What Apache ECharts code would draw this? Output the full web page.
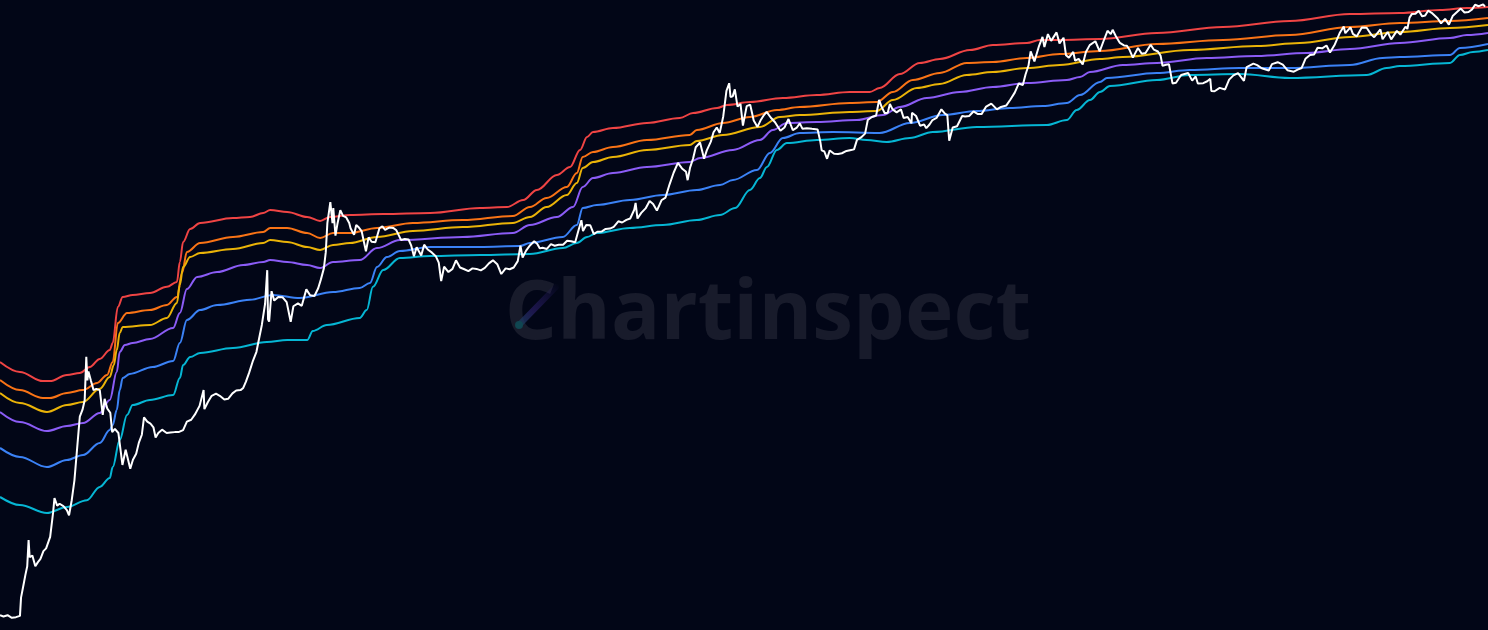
<!DOCTYPE html>
<html><head><meta charset="utf-8">
<script src="https://cdn.jsdelivr.net/npm/echarts@6/dist/echarts.min.js"></script>
<style>html,body{margin:0;padding:0;background:#020617;}#chart{width:1488px;height:630px;}</style>
</head><body><div id="chart"></div>
<script>
// BTC price (USD), approx. semi-monthly
const btcPrice = [
['2010-07-23',0.066],['2010-08-05',0.064],['2010-08-20',0.066],['2010-09-05',0.062],['2010-09-20',0.063],['2010-10-05',0.065],['2010-10-09',0.1],['2010-10-17',0.13],['2010-10-25',0.17],['2010-11-01',0.21],['2010-11-06',0.39],['2010-11-10',0.26],['2010-11-20',0.27],['2010-12-01',0.21],['2010-12-10',0.23],['2010-12-20',0.25],['2010-12-31',0.30],
['2011-01-10',0.32],['2011-01-25',0.42],['2011-02-05',0.75],['2011-02-10',1.05],['2011-02-20',0.88],['2011-03-01',0.92],['2011-03-15',0.87],['2011-03-28',0.79],['2011-04-05',0.70],['2011-04-15',1.0],['2011-04-25',1.6],['2011-05-05',3.4],['2011-05-15',7.2],['2011-05-25',8.5],['2011-06-02',10.6],['2011-06-08',29.6],['2011-06-12',17],['2011-06-16',21],['2011-06-25',16.9],['2011-07-05',13.5],['2011-07-15',13.9],['2011-07-28',13.5],['2011-08-08',7.5],['2011-08-15',11.0],['2011-08-25',8.7],['2011-09-05',7.9],['2011-09-12',5.0],['2011-09-22',5.4],['2011-10-05',4.9],['2011-10-20',2.3],['2011-11-01',3.3],['2011-11-18',2.1],['2011-11-28',2.6],['2011-12-10',3.0],['2011-12-20',3.9],['2011-12-31',4.7],
['2012-01-08',7.1],['2012-01-20',6.4],['2012-02-01',6.1],['2012-02-12',5.6],['2012-02-20',4.4],['2012-03-01',4.9],['2012-03-15',5.3],['2012-04-01',4.9],['2012-04-15',4.95],['2012-05-01',5.0],['2012-05-15',5.0],['2012-06-01',5.25],['2012-06-15',6.4],['2012-07-01',6.7],['2012-07-15',7.6],['2012-08-01',9.3],['2012-08-16',13.5],['2012-08-19',8.6],['2012-09-01',10.2],['2012-09-15',11.8],['2012-10-01',12.4],['2012-10-15',11.8],['2012-11-01',10.8],['2012-11-15',11.0],['2012-12-01',12.5],['2012-12-15',13.4],['2012-12-31',13.5],
['2013-01-10',14.2],['2013-01-20',16.5],['2013-02-01',20.4],['2013-02-15',27],['2013-02-28',33.4],['2013-03-10',46],['2013-03-20',63],['2013-04-01',104],['2013-04-09',230],['2013-04-12',72],['2013-04-16',68],['2013-04-25',140],['2013-05-05',112],['2013-05-20',122],['2013-06-05',121],['2013-06-20',108],['2013-07-05',68],['2013-07-15',98],['2013-08-01',105],['2013-08-15',99],['2013-09-01',146],['2013-09-15',127],['2013-10-01',125],['2013-10-15',150],['2013-10-25',185],['2013-11-05',240],['2013-11-12',350],['2013-11-18',700],['2013-11-29',1150],['2013-12-04',1150],['2013-12-07',700],['2013-12-10',1000],['2013-12-18',520],['2013-12-25',680],
['2014-01-05',950],['2014-01-15',830],['2014-01-27',800],['2014-02-07',700],['2014-02-12',620],['2014-02-25',530],['2014-03-05',670],['2014-03-15',630],['2014-03-25',580],['2014-04-01',470],['2014-04-10',360],['2014-04-20',500],['2014-05-01',450],['2014-05-15',445],['2014-05-30',620],['2014-06-10',650],['2014-06-20',595],['2014-07-05',630],['2014-07-20',625],['2014-08-01',590],['2014-08-18',470],['2014-09-01',480],['2014-09-15',475],['2014-09-25',410],['2014-10-05',320],['2014-10-15',395],['2014-11-01',325],['2014-11-12',420],['2014-11-25',375],['2014-12-10',350],['2014-12-25',320],
['2015-01-05',275],['2015-01-14',178],['2015-01-25',250],['2015-02-10',220],['2015-02-25',237],['2015-03-10',290],['2015-03-25',245],['2015-04-10',235],['2015-04-25',225],['2015-05-10',240],['2015-05-25',237],['2015-06-10',229],['2015-06-25',243],['2015-07-10',270],['2015-07-25',290],['2015-08-10',265],['2015-08-25',210],['2015-09-10',240],['2015-09-25',235],['2015-10-10',245],['2015-10-25',285],['2015-11-04',410],['2015-11-12',310],['2015-11-25',365],['2015-12-10',415],['2015-12-25',455],
['2016-01-05',430],['2016-01-15',385],['2016-01-25',390],['2016-02-10',380],['2016-02-25',425],['2016-03-10',410],['2016-03-25',420],['2016-04-10',420],['2016-04-25',460],['2016-05-10',455],['2016-05-25',445],['2016-06-05',575],['2016-06-17',750],['2016-06-23',580],['2016-07-05',670],['2016-07-20',665],['2016-08-02',540],['2016-08-15',570],['2016-09-01',575],['2016-09-15',610],['2016-10-01',615],['2016-10-15',640],['2016-11-01',730],['2016-11-15',710],['2016-12-01',755],['2016-12-15',780],['2016-12-30',960],
['2017-01-04',1130],['2017-01-11',780],['2017-01-25',890],['2017-02-10',990],['2017-02-25',1180],['2017-03-10',1100],['2017-03-24',940],['2017-04-10',1200],['2017-04-25',1280],['2017-05-10',1750],['2017-05-25',2300],['2017-06-10',2900],['2017-06-25',2550],['2017-07-10',2350],['2017-07-16',1930],['2017-07-25',2600],['2017-08-05',3200],['2017-08-15',4200],['2017-08-31',4700],['2017-09-15',3200],['2017-09-25',3900],['2017-10-10',4800],['2017-10-20',6000],['2017-11-01',6700],['2017-11-12',5900],['2017-11-25',8700],['2017-12-07',16000],['2017-12-17',19100],['2017-12-22',13800],['2017-12-30',14000],
['2018-01-07',16500],['2018-01-17',11000],['2018-01-28',11700],['2018-02-06',7000],['2018-02-20',11100],['2018-03-05',11500],['2018-03-18',7900],['2018-04-01',6800],['2018-04-12',7900],['2018-04-25',9000],['2018-05-05',9700],['2018-05-20',8500],['2018-06-05',7600],['2018-06-25',6200],['2018-07-10',6700],['2018-07-25',8200],['2018-08-10',6300],['2018-08-25',6700],['2018-09-05',7400],['2018-09-15',6500],['2018-10-01',6600],['2018-10-20',6500],['2018-11-10',6400],['2018-11-20',4800],['2018-11-25',3900],['2018-12-05',3800],['2018-12-15',3200],['2018-12-25',3900],
['2019-01-10',3600],['2019-01-25',3580],['2019-02-08',3650],['2019-02-25',3850],['2019-03-10',3920],['2019-03-25',4000],['2019-04-05',5000],['2019-04-20',5300],['2019-05-05',5800],['2019-05-15',8000],['2019-05-30',8600],['2019-06-15',8900],['2019-06-26',12900],['2019-07-05',11000],['2019-07-17',9400],['2019-07-28',9500],['2019-08-05',11700],['2019-08-15',10300],['2019-08-30',9600],['2019-09-15',10300],['2019-09-25',8400],['2019-10-10',8600],['2019-10-24',7400],['2019-10-26',9500],['2019-11-10',8800],['2019-11-25',7000],['2019-12-10',7200],['2019-12-18',6600],['2019-12-30',7200],
['2020-01-10',8000],['2020-01-25',8400],['2020-02-12',10300],['2020-02-25',9300],['2020-03-05',9000],['2020-03-12',4900],['2020-03-25',6700],['2020-04-10',6900],['2020-04-29',8800],['2020-05-10',8700],['2020-05-25',8800],['2020-06-10',9800],['2020-06-25',9250],['2020-07-10',9200],['2020-07-27',11000],['2020-08-15',11800],['2020-09-05',10300],['2020-09-20',10900],['2020-10-10',11300],['2020-10-25',13000],['2020-11-10',15300],['2020-11-25',19000],['2020-12-10',18300],['2020-12-20',23500],['2020-12-31',29000],
['2021-01-08',40500],['2021-01-22',32000],['2021-02-08',46000],['2021-02-21',57000],['2021-02-28',45000],['2021-03-13',61000],['2021-03-25',52000],['2021-04-14',63500],['2021-04-25',49000],['2021-05-10',56000],['2021-05-19',37000],['2021-05-30',35000],['2021-06-15',40000],['2021-06-22',32500],['2021-07-05',34000],['2021-07-20',29800],['2021-08-01',40000],['2021-08-15',47000],['2021-09-05',51500],['2021-09-21',40500],['2021-10-05',51500],['2021-10-20',66000],['2021-11-01',61000],['2021-11-08',67500],['2021-11-20',58000],['2021-12-05',49500],['2021-12-20',46700],['2021-12-31',46300],
['2022-01-10',41800],['2022-01-22',35000],['2022-02-10',44000],['2022-02-24',38300],['2022-03-10',39000],['2022-03-29',47500],['2022-04-10',42200],['2022-04-25',40400],['2022-05-05',36500],['2022-05-12',28900],['2022-05-25',29500],['2022-06-05',29900],['2022-06-18',19000],['2022-07-01',19300],['2022-07-20',23200],['2022-08-15',24300],['2022-08-30',20300],['2022-09-12',22400],['2022-09-20',19000],['2022-10-10',19100],['2022-10-25',20000],['2022-11-05',21200],['2022-11-09',15900],['2022-11-21',15800],['2022-12-10',17100],['2022-12-30',16500],
['2023-01-14',20800],['2023-01-30',23000],['2023-02-16',24300],['2023-03-10',20200],['2023-03-20',28000],['2023-04-14',30400],['2023-04-28',29300],['2023-05-15',27200],['2023-06-10',25800],['2023-06-22',30000],['2023-07-13',31400],['2023-08-01',29700],['2023-08-18',26000],['2023-09-11',25100],['2023-09-25',26300],['2023-10-10',27400],['2023-10-24',34000],['2023-11-10',37300],['2023-11-25',37700],['2023-12-08',44200],['2023-12-25',43600],
['2024-01-10',46600],['2024-01-23',39500],['2024-02-10',47800],['2024-02-28',62500],['2024-03-14',73100],['2024-03-20',62400],['2024-04-08',71600],['2024-04-17',61300],['2024-05-01',57800],['2024-05-20',71400],['2024-06-07',71000],['2024-06-24',60300],['2024-07-05',56700],['2024-07-28',68200],['2024-08-05',54000],['2024-08-24',64100],['2024-09-06',53900],['2024-09-27',65800],['2024-10-10',60300],['2024-10-29',72700],['2024-11-05',68900],['2024-11-13',90000],['2024-11-22',98300],['2024-12-05',98800],['2024-12-17',106000],['2024-12-30',92700],
['2025-01-10',94500],['2025-01-21',106000],['2025-02-03',101000],['2025-02-25',88700],['2025-03-10',78600],['2025-03-25',87500],['2025-04-08',76300],['2025-04-22',93500],['2025-05-10',104000],['2025-05-22',111500],['2025-06-05',101500],['2025-06-20',103000],['2025-07-03',109500],['2025-07-14',122000],['2025-07-28',118000],['2025-08-13',123300],['2025-08-20',117000]
];

const bandRed = [
['2010-07-23',26.2],['2010-10-05',20.7],['2010-12-29',16.7],['2011-01-24',16.7],['2011-03-28',19.3],['2011-05-15',20.2],['2011-06-21',23.3],['2011-07-28',28.2],['2011-09-03',34.8],['2011-09-14',41.1],['2011-10-03',96.3],['2011-10-21',122],['2011-11-27',128],['2012-01-30',134],['2012-04-02',155],['2012-05-09',174],['2012-05-20',279],['2012-06-01',448],['2012-06-27',608],['2012-08-03',702],['2012-12-03',789],['2013-02-04',809],['2013-03-25',889],['2013-04-20',953],['2013-06-22',910],['2013-09-04',809],['2013-10-22',736],['2013-11-28',809],['2014-02-10',847],['2014-06-13',867],['2014-12-04',889],['2015-06-07',1000],['2015-09-15',1023],['2015-11-14',1208],['2016-01-04',1531],['2016-03-18',2183],['2016-05-06',2636],['2016-06-12',3944],['2016-07-08',5358],['2016-07-30',6026],['2016-10-12',6622],['2017-02-15',7464],['2017-06-17',8395],['2017-08-05',9444],['2017-11-02',10640],['2017-12-09',11420],['2018-03-04',12250],['2018-07-04',13470],['2018-11-07',14460],['2019-03-09',15520],['2019-05-22',15520],['2019-06-28',17060],['2019-09-11',23770],['2019-11-24',30830],['2020-02-06',33880],['2020-05-28',41880],['2020-08-21',47200],['2020-12-25',49430],['2021-02-11',53090],['2021-04-26',53090],['2021-09-22',54330],['2022-04-21',62660],['2022-12-22',72110],['2023-08-27',83180],['2024-04-06',98150],['2024-10-08',100500],['2025-03-06',107900],['2025-06-14',113000],['2025-08-31',115800]
];
const bandOrange = [
['2010-07-23',17.1],['2010-10-05',13.5],['2010-12-29',11.2],['2011-01-24',11.2],['2011-03-28',12.6],['2011-05-27',13.5],['2011-07-18',16.0],['2011-08-24',19.3],['2011-09-14',26.2],['2011-10-03',65.9],['2011-11-06',83.6],['2012-01-30',89.7],['2012-04-02',101],['2012-05-09',122],['2012-05-28',215],['2012-06-15',353],['2012-08-03',437],['2012-12-03',504],['2013-03-25',567],['2013-04-20',624],['2013-06-22',624],['2013-09-04',554],['2013-10-22',492],['2013-12-09',554],['2014-02-10',554],['2014-05-21',624],['2014-10-01',702],['2015-04-04',753],['2015-10-07',828],['2015-12-09',1023],['2016-02-09',1267],['2016-04-24',1643],['2016-05-31',2288],['2016-06-22',3339],['2016-07-30',3758],['2016-10-12',4227],['2017-02-15',4989],['2017-07-24',5623],['2017-08-19',6324],['2017-11-24',7464],['2018-03-04',8590],['2018-06-12',10140],['2018-09-05',10890],['2019-03-09',11970],['2019-06-17',12250],['2019-08-16',15520],['2019-10-29',20610],['2020-02-06',24320],['2020-05-16',30830],['2020-08-21',31550],['2020-12-25',34670],['2021-04-26',38110],['2021-09-22',40930],['2022-04-21',48310],['2022-12-22',53090],['2023-08-27',59700],['2024-04-06',72110],['2024-10-08',79250],['2025-04-12',83180],['2025-08-31',89330]
];
const bandYellow = [
['2010-07-23',12.6],['2010-10-05',9.95],['2011-01-13',8.05],['2011-03-28',9.49],['2011-05-27',10.2],['2011-07-28',13.9],['2011-09-03',18.4],['2011-09-18',24.4],['2011-09-29',34.8],['2011-10-10',52.1],['2011-10-21',60.0],['2012-01-30',62.9],['2012-04-02',74.3],['2012-05-09',106],['2012-05-20',162],['2012-06-01',248],['2012-06-27',314],['2012-08-03',345],['2012-12-03',379],['2013-03-25',437],['2013-04-20',469],['2013-06-22',448],['2013-09-04',398],['2013-10-22',371],['2013-12-09',417],['2014-02-10',437],['2014-05-21',504],['2014-10-01',581],['2015-04-04',638],['2015-10-07',702],['2015-12-09',809],['2016-02-09',1023],['2016-04-24',1359],['2016-05-31',1807],['2016-06-22',2576],['2016-07-30',2965],['2016-10-12',3339],['2017-02-15',3944],['2017-07-24',4436],['2017-08-19',4875],['2017-11-24',5623],['2018-04-10',6790],['2018-06-23',8590],['2018-09-05',9016],['2019-03-09',9683],['2019-06-17',9908],['2019-08-16',12850],['2019-11-13',17060],['2020-02-06',18750],['2020-05-16',23220],['2020-08-21',24890],['2020-12-25',27350],['2021-04-26',29380],['2021-09-22',33880],['2021-12-16',35480],['2022-08-21',41880],['2023-04-26',46030],['2023-10-03',49430],['2024-04-06',57020],['2024-10-08',64120],['2025-04-12',70470],['2025-08-31',75680]
];
const bandPurple = [
['2010-07-23',8.05],['2010-10-05',6.35],['2011-01-13',5.13],['2011-03-28',5.78],['2011-05-27',6.21],['2011-07-28',7.86],['2011-09-03',10.7],['2011-09-29',20.7],['2011-10-10',33.2],['2011-10-29',39.2],['2011-11-27',41.1],['2012-01-30',45.2],['2012-04-25',58.6],['2012-05-20',83.6],['2012-06-15',147],['2012-07-23',196],['2012-10-05',220],['2013-01-10',260],['2013-03-25',279],['2013-04-20',292],['2013-06-22',279],['2013-09-04',260],['2013-10-22',242],['2013-12-09',279],['2014-03-18',292],['2014-05-21',388],['2014-08-14',469],['2015-04-04',504],['2015-10-07',554],['2015-12-09',669],['2016-03-18',809],['2016-05-17',1023],['2016-06-22',1643],['2016-07-30',2032],['2016-10-12',2288],['2017-02-15',2636],['2017-07-24',2965],['2017-08-31',3260],['2017-12-31',3944],['2018-04-10',4989],['2018-05-28',6324],['2018-07-19',7464],['2018-11-07',7638],['2019-04-04',8000],['2019-07-10',9016],['2019-09-11',10890],['2019-12-20',13470],['2020-04-20',15520],['2020-08-21',17460],['2020-12-25',19190],['2021-05-22',20610],['2021-07-10',22130],['2021-08-16',24890],['2021-12-16',29380],['2022-04-21',30830],['2022-10-23',34670],['2023-04-26',36370],['2023-10-29',39000],['2024-04-06',42860],['2024-10-08',49430],['2025-04-12',55590],['2025-06-14',59700],['2025-08-31',62660]
];
const bandBlue = [
['2010-07-23',3.44],['2010-10-05',2.78],['2011-01-13',2.19],['2011-03-28',2.59],['2011-05-27',2.91],['2011-07-28',3.87],['2011-09-03',5.26],['2011-09-14',5.92],['2011-09-29',8.44],['2011-10-10',13.5],['2011-10-21',18.0],['2011-11-16',19.8],['2012-02-09',23.3],['2012-04-25',26.9],['2012-05-20',41.1],['2012-06-15',70.8],['2012-08-03',89.7],['2012-10-05',101],['2013-02-04',114],['2013-04-30',128],['2013-08-08',119],['2013-12-09',137],['2014-03-18',151],['2014-04-25',170],['2014-05-21',248],['2014-06-27',314],['2014-08-14',362],['2014-12-04',398],['2015-06-07',398],['2015-11-02',407],['2015-12-09',437],['2016-04-09',504],['2016-05-31',669],['2016-06-22',1000],['2016-08-13',1074],['2016-12-14',1208],['2017-04-15',1359],['2017-08-19',1531],['2017-11-13',1722],['2017-12-31',1938],['2018-03-30',2455],['2018-05-17',3670],['2018-07-04',5234],['2018-09-05',5888],['2019-01-06',6026],['2019-06-28',5888],['2019-10-18',7464],['2020-02-17',9016],['2020-06-22',9908],['2020-10-22',10640],['2021-02-22',11140],['2021-05-22',11970],['2021-07-10',14460],['2021-09-22',19680],['2021-10-18',21630],['2022-04-21',24320],['2022-08-21',26120],['2023-02-22',27350],['2023-08-27',27350],['2024-04-06',29380],['2024-08-05',34670],['2024-10-08',35480],['2025-04-12',37240],['2025-05-19',43950],['2025-08-31',48310]
];
const bandCyan = [
['2010-07-23',1.08],['2010-10-05',0.893],['2011-01-13',0.739],['2011-03-28',0.851],['2011-06-10',1.0],['2011-07-28',1.37],['2011-09-03',1.69],['2011-09-14',2.19],['2011-10-10',4.15],['2011-11-06',7.50],['2011-11-27',9.49],['2012-01-30',10.7],['2012-04-25',12.0],['2012-05-20',18.0],['2012-06-01',24.4],['2012-06-27',29.5],['2012-08-03',32.5],['2012-12-03',36.5],['2013-04-08',42.1],['2013-06-22',44.1],['2013-09-04',44.1],['2013-09-25',54.6],['2013-11-16',62.9],['2014-03-18',74.3],['2014-04-13',89.7],['2014-05-06',155],['2014-06-13',231],['2014-08-14',307],['2014-12-04',321],['2015-06-07',329],['2015-12-09',337],['2016-04-09',388],['2016-05-31',437],['2016-07-08',504],['2016-08-13',554],['2016-12-14',624],['2017-04-15',669],['2017-08-19',753],['2017-11-13',847],['2018-01-08',1000],['2018-03-04',1531],['2018-04-10',2032],['2018-05-06',2636],['2018-06-12',3944],['2018-07-19',4645],['2018-11-07',4989],['2019-03-09',5234],['2019-05-11',4989],['2019-07-24',4764],['2019-10-18',5234],['2020-01-11',6026],['2020-06-22',6790],['2021-03-09',7112],['2021-05-22',8000],['2021-06-28',10140],['2021-08-16',12850],['2021-09-22',15520],['2021-10-29',17900],['2022-04-21',20610],['2022-08-21',23220],['2023-02-22',23770],['2023-08-27',21630],['2024-06-07',23220],['2024-08-20',27350],['2024-10-08',28710],['2025-04-12',30830],['2025-05-19',37240],['2025-07-06',39990],['2025-08-31',41880]
];

const bandNames = ['Band 6','Band 5','Band 4','Band 3','Band 2','Band 1'];
const bandColors = ['#ef4444','#f97316','#eab308','#8b5cf6','#3b82f6','#06b6d4'];
const bands = [bandRed, bandOrange, bandYellow, bandPurple, bandBlue, bandCyan];

const chart = echarts.init(document.getElementById('chart'), null, {renderer: 'canvas'});
const series = bands.map((d, i) => ({
  name: bandNames[i], type: 'line', data: d, showSymbol: false, symbol: 'none',
  smooth: 0.35, smoothMonotone: 'x',
  lineStyle: {color: bandColors[i], width: 2}, z: 2
}));
series.push({
  name: 'BTC Price', type: 'line', data: btcPrice, showSymbol: false, symbol: 'none',
  lineStyle: {color: '#ffffff', width: 2}, z: 5
});

chart.setOption({
  backgroundColor: '#020617',
  animation: false,
  grid: {left: 0, right: 0, top: 0, bottom: 0},
  xAxis: {type: 'time', min: new Date('2010-07-23T00:00:00').getTime(), max: new Date('2025-08-31T00:00:00').getTime(), show: false},
  yAxis: {type: 'log', logBase: 10, min: 0.0465, max: 136600, show: false},
  graphic: [
    {type: 'text', x: 768, y: 316, z: 0, silent: true,
     style: {text: 'Chartinspect', font: 'bold 82px "Open Sans", "Noto Sans", sans-serif', fill: '#181b2b', align: 'center', verticalAlign: 'middle', textAlign: 'center', textVerticalAlign: 'middle'}},
    {type: 'line', z: 1, silent: true,
     shape: {x1: 556, y1: 287, x2: 519, y2: 325},
     style: {lineWidth: 6, lineCap: 'round', stroke: new echarts.graphic.LinearGradient(1, 0, 0, 1, [{offset: 0, color: 'rgba(60,40,140,0.0)'}, {offset: 0.6, color: 'rgba(50,35,120,0.55)'}, {offset: 1, color: 'rgba(16,70,80,0.9)'}])}},
    {type: 'circle', z: 1, silent: true, shape: {cx: 519, cy: 325, r: 4}, style: {fill: 'rgba(16,72,82,0.9)'}}
  ],
  series: series
});
</script>
</body></html>
